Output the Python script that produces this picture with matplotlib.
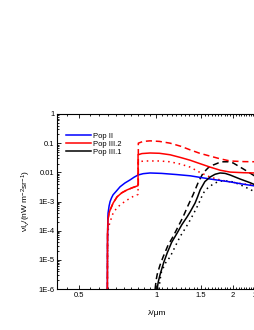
import numpy as np
import matplotlib.pyplot as plt
from matplotlib.ticker import FixedLocator, MultipleLocator, NullFormatter, LogLocator

plt.rcParams['font.family'] = ['Liberation Sans', 'DejaVu Sans']
plt.rcParams['mathtext.default'] = 'regular'

# Pop II (blue)
lam_pop2 = [0.645, 0.6455, 0.647, 0.649, 0.655, 0.661, 0.670, 0.679, 0.700, 0.723, 0.755, 0.791,
            0.820, 0.850, 0.890, 0.947, 1.05, 1.20, 1.36, 1.625, 1.946, 2.20, 2.435, 2.5]
val_pop2 = [1e-6, 3e-5, 1.5e-4, 4e-4, 7e-4, 1e-3, 1.35e-3, 1.7e-3, 2.3e-3, 3.2e-3, 4.3e-3, 5.5e-3,
            6.8e-3, 8.1e-3, 9e-3, 9.5e-3, 9.2e-3, 8.4e-3, 7.6e-3, 5.9e-3, 4.7e-3, 3.9e-3, 3.4e-3, 3.2e-3]

# Pop III.2 (red): solid / dashed / dotted
lam_p32_solid = [0.645, 0.646, 0.649, 0.655, 0.661, 0.680, 0.704, 0.735, 0.770, 0.810, 0.843, 0.850,
                 0.850, 0.880, 0.947, 1.03, 1.134, 1.25, 1.358, 1.48, 1.625, 1.78, 1.946, 2.20, 2.435, 2.5]
val_p32_solid = [1e-6, 8e-5, 2.5e-4, 4e-4, 5.1e-4, 9e-4, 1.45e-3, 2e-3, 2.5e-3, 3e-3, 3.4e-3, 3.5e-3,
                 0.040, 0.044, 0.046, 0.045, 0.040, 0.032, 0.026, 0.020, 0.0151, 0.0118, 0.0102, 9.7e-3, 9.5e-3, 9.5e-3]
lam_p32_dash = [0.645, 0.646, 0.649, 0.655, 0.661, 0.680, 0.704, 0.735, 0.770, 0.810, 0.843, 0.852,
                0.852, 0.890, 0.947, 1.03, 1.134, 1.25, 1.358, 1.48, 1.625, 1.78, 1.946, 2.20, 2.5]
val_p32_dash = [1e-6, 8e-5, 2.5e-4, 4e-4, 5.1e-4, 9e-4, 1.45e-3, 2e-3, 2.5e-3, 3e-3, 3.4e-3, 3.5e-3,
                0.10, 0.115, 0.12, 0.115, 0.10, 0.078, 0.059, 0.045, 0.036, 0.029, 0.0245, 0.0233, 0.023]
lam_p32_dot = [0.645, 0.647, 0.649, 0.655, 0.661, 0.679, 0.700, 0.723, 0.755, 0.791, 0.820, 0.843, 0.850,
               0.850, 0.900, 0.947, 1.03, 1.134, 1.25, 1.358, 1.48, 1.625, 1.78, 1.946, 2.20, 2.435, 2.5]
val_p32_dot = [1e-6, 5e-5, 1e-4, 1.5e-4, 2e-4, 4e-4, 5.8e-4, 7.6e-4, 1e-3, 1.3e-3, 1.55e-3, 1.7e-3, 1.75e-3,
               0.023, 0.0245, 0.0245, 0.0245, 0.023, 0.019, 0.0151, 0.010, 6.9e-3, 5.5e-3, 4.7e-3, 4e-3, 3.7e-3, 3.5e-3]

# Pop III.1 (black): solid / dashed / dotted
lam_p31_solid = [1.009, 1.02, 1.037, 1.07, 1.104, 1.15, 1.208, 1.26, 1.322, 1.36, 1.42, 1.45, 1.486,
                 1.55, 1.625, 1.70, 1.778, 1.86, 1.946, 2.128, 2.33, 2.5]
val_p31_solid = [1e-6, 1.8e-6, 3.2e-6, 8e-6, 1.7e-5, 4e-5, 8.3e-5, 1.6e-4, 3e-4, 4.5e-4, 8.9e-4, 1.4e-3, 2.5e-3,
                 4.8e-3, 6.9e-3, 8.6e-3, 9.5e-3, 9.2e-3, 8.1e-3, 5.9e-3, 4.4e-3, 3.4e-3]
lam_p31_dash = [0.991, 1.0, 1.01, 1.035, 1.065, 1.11, 1.165, 1.22, 1.275, 1.33, 1.394, 1.46, 1.526,
                1.60, 1.670, 1.75, 1.827, 1.91, 1.998, 2.186, 2.393, 2.5]
val_p31_dash = [1e-6, 2e-6, 3.2e-6, 6.5e-6, 1.26e-5, 3e-5, 6.3e-5, 1.4e-4, 3e-4, 7e-4, 1.7e-3, 4.5e-3, 9.5e-3,
                0.0145, 0.0178, 0.021, 0.023, 0.023, 0.021, 0.0132, 8.1e-3, 6.3e-3]
lam_p31_dot = [1.027, 1.035, 1.05, 1.09, 1.134, 1.19, 1.241, 1.30, 1.358, 1.40, 1.446, 1.486, 1.526,
               1.575, 1.625, 1.670, 1.75, 1.827, 1.91, 1.998, 2.186, 2.393, 2.5]
val_p31_dot = [1e-6, 2e-6, 4e-6, 8e-6, 1.26e-5, 3e-5, 6.3e-5, 1.2e-4, 2.3e-4, 3.8e-4, 6.6e-4, 1.1e-3, 1.9e-3,
               2.7e-3, 3.3e-3, 4e-3, 4.8e-3, 5.1e-3, 5e-3, 4.7e-3, 3.4e-3, 2.3e-3, 1.9e-3]

ytick_vals = [1e-6, 1e-5, 1e-4, 1e-3, 1e-2, 1e-1, 1]
ytick_labels = ['1E-6', '1E-5', '1E-4', '1E-3', '0.01', '0.1', '1']
xtick_vals = [0.5, 1.0, 1.5, 2.0, 2.5]
xtick_labels = ['0.5', '1', '1.5', '2', '2.5']

fig = plt.figure(figsize=(2.55, 3.3), dpi=100)
ax = fig.add_axes([57 / 255, 41 / 330, 201 / 255, 175 / 330])

lw = 1.1
dash = (0, (4, 2.5))
dot = (0, (1, 2.5))
ax.plot(lam_p31_dash, val_p31_dash, color='black', lw=lw, ls=dash)
ax.plot(lam_p31_dot, val_p31_dot, color='black', lw=lw, ls=dot)
ax.plot(lam_p32_dash, val_p32_dash, color='red', lw=lw, ls=dash)
ax.plot(lam_p32_dot, val_p32_dot, color='red', lw=lw, ls=dot)
ax.plot(lam_pop2, val_pop2, color='blue', lw=lw, label='Pop II')
ax.plot(lam_p32_solid, val_p32_solid, color='red', lw=lw, label='Pop III.2')
ax.plot(lam_p31_solid, val_p31_solid, color='black', lw=lw, label='Pop III.1')

ax.set_xscale('log')
ax.set_yscale('log')
ax.set_xlim(0.41, 2.5)
ax.set_ylim(1e-6, 1)

ax.xaxis.set_major_locator(FixedLocator(xtick_vals))
ax.set_xticklabels(xtick_labels)
ax.xaxis.set_minor_locator(MultipleLocator(0.05))
ax.xaxis.set_minor_formatter(NullFormatter())
ax.yaxis.set_major_locator(FixedLocator(ytick_vals))
ax.set_yticklabels(ytick_labels)
ax.yaxis.set_minor_locator(LogLocator(base=10, subs=np.arange(2, 10), numticks=20))
ax.yaxis.set_minor_formatter(NullFormatter())

ax.tick_params(which='both', direction='in', top=True, right=True, labelsize=5.5, width=0.6, pad=2)
ax.tick_params(which='major', length=3)
ax.tick_params(which='minor', length=1.6)
for s in ax.spines.values():
    s.set_linewidth(0.8)

ax.set_xlabel('λ/μm', fontsize=6, labelpad=8)
ax.set_ylabel(r'νI$_{ν}$/(nW m$^{-2}$sr$^{-1}$)', fontsize=6, labelpad=4)

ax.legend(loc='upper left', bbox_to_anchor=(0.03, 0.91), frameon=False, fontsize=5.5,
          handlelength=3.2, handletextpad=0.3, labelspacing=0.05, borderaxespad=0)

fig.savefig('out.png', dpi=100)
